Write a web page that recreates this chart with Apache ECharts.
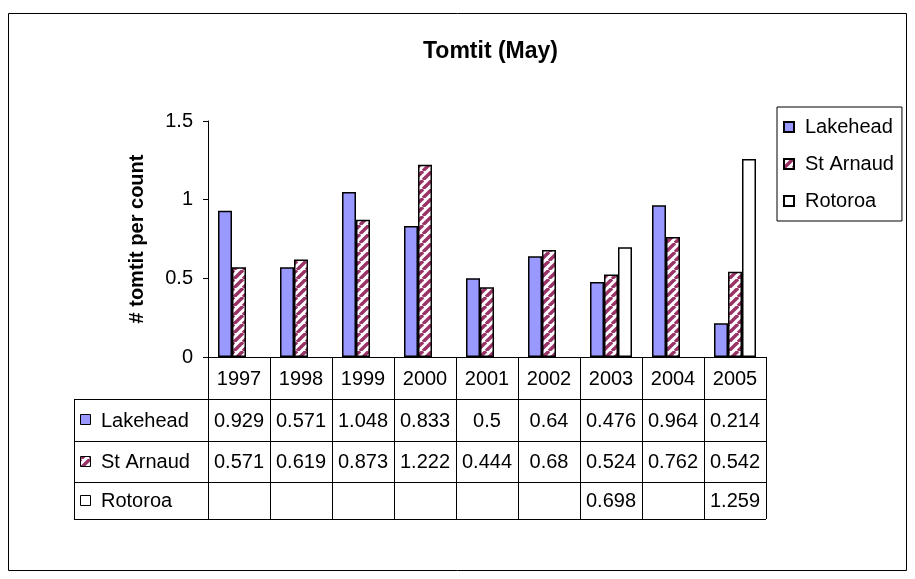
<!DOCTYPE html>
<html>
<head>
<meta charset="utf-8">
<script src="https://cdn.jsdelivr.net/npm/echarts@6/dist/echarts.min.js"></script>
<style>
  html, body { margin: 0; padding: 0; background: #fff; }
  #main { width: 915px; height: 579px; }
</style>
</head>
<body>
<div id="main"></div>
<script>
  const years = ['1997', '1998', '1999', '2000', '2001', '2002', '2003', '2004', '2005'];
  const seriesNames = ['Lakehead', 'St Arnaud', 'Rotoroa'];
  const lakehead = [0.929, 0.571, 1.048, 0.833, 0.5, 0.64, 0.476, 0.964, 0.214];
  const stArnaud = [0.571, 0.619, 0.873, 1.222, 0.444, 0.68, 0.524, 0.762, 0.542];
  const rotoroa = [null, null, null, null, null, null, 0.698, null, 1.259];
  const yMin = 0, yMax = 1.5, yStep = 0.5;

  const FONT = '"Liberation Sans", Arial, sans-serif';

  //斜线填充
  function stripes() {
    const c = document.createElement('canvas');
    c.width = 9; c.height = 9;
    const ctx = c.getContext('2d');
    ctx.fillStyle = '#fff';
    ctx.fillRect(0, 0, 9, 9);
    ctx.strokeStyle = '#993366';
    ctx.lineWidth = 3.4;
    [-9, 0, 9].forEach(function (o) {
      ctx.beginPath();
      ctx.moveTo(o, 9);
      ctx.lineTo(o + 9, 0);
      ctx.stroke();
    });
    return { image: c, repeat: 'repeat' };
  }

  const fills = ['#9999ff', stripes(), '#ffffff'];
  const allData = [lakehead, stArnaud, rotoroa];

  const chart = echarts.init(document.getElementById('main'));

  const option = {
    animation: false,
    backgroundColor: '#fff',
    title: {
      text: 'Tomtit (May)',
      left: 418,
      top: 35,
      textStyle: { fontFamily: FONT, fontSize: 23, fontWeight: 'bold', color: '#000' }
    },
    legend: {
      orient: 'vertical',
      left: 777,
      top: 107,
      padding: [10, 8, 10, 6],
      itemWidth: 10,
      itemHeight: 10,
      itemGap: 17,
      borderColor: '#000',
      borderWidth: 1,
      icon: 'rect',
      data: seriesNames,
      textStyle: { fontFamily: FONT, fontSize: 20, color: '#000', padding: [0, 0, 0, 6] }
    },
    grid: { left: 208, right: 149, top: 121, bottom: 222 },
    xAxis: {
      type: 'category',
      data: years,
      axisLine: { lineStyle: { color: '#000', width: 1 } },
      axisTick: { show: true, length: 42, lineStyle: { color: '#000' } },
      axisLabel: { margin: 12, fontFamily: FONT, fontSize: 20, color: '#000' },
      splitLine: { show: false }
    },
    yAxis: {
      type: 'value',
      min: yMin,
      max: yMax,
      interval: yStep,
      name: '# tomtit per count',
      nameLocation: 'middle',
      nameRotate: 90,
      nameGap: 61,
      nameTextStyle: { fontFamily: FONT, fontSize: 20, fontWeight: 'bold', color: '#000' },
      axisLine: { show: true, lineStyle: { color: '#000', width: 1 } },
      axisTick: { show: true, length: 5, lineStyle: { color: '#000' } },
      axisLabel: { margin: 15, fontFamily: FONT, fontSize: 20, color: '#000' },
      splitLine: { show: false }
    },
    series: seriesNames.map(function (name, i) {
      return {
        name: name,
        type: 'bar',
        data: allData[i],
        barWidth: 14,
        barGap: '0%',
        itemStyle: { color: fills[i], borderColor: '#000', borderWidth: 1.5 }
      };
    })
  };
  chart.setOption(option);

  //数据表
  const xa = chart.convertToPixel({ xAxisIndex: 0 }, years[0]);
  const xb = chart.convertToPixel({ xAxisIndex: 0 }, years[1]);
  const bw = xb - xa;
  const left = xa - bw / 2;
  const right = left + bw * years.length;
  const axisY = chart.convertToPixel({ yAxisIndex: 0 }, 0);
  const rowLines = [399, 441, 482, 519];
  const tableLeft = 74;

  const g = [];
  function line(x1, y1, x2, y2) {
    g.push({
      type: 'line',
      shape: { x1: x1, y1: y1, x2: x2, y2: y2 },
      style: { stroke: '#000', lineWidth: 1 },
      silent: true
    });
  }
  rowLines.forEach(function (y) { line(tableLeft, y + 0.5, right, y + 0.5); });
  line(tableLeft + 0.5, rowLines[0], tableLeft + 0.5, rowLines[3]);
  line(Math.round(left) + 0.5, axisY, Math.round(left) + 0.5, rowLines[3]);
  for (let k = 1; k <= years.length; k++) {
    const x = Math.round(left + bw * k) + 0.5;
    line(x, rowLines[0], x, rowLines[3]);
  }

  seriesNames.forEach(function (name, i) {
    const top = rowLines[i], bot = rowLines[i + 1];
    const cy = (top + bot) / 2;
    g.push({
      type: 'rect',
      shape: { x: 80.5, y: Math.round(cy) - 5.5, width: 10, height: 10 },
      style: { fill: fills[i], stroke: '#000', lineWidth: 1 },
      silent: true
    });
    g.push({
      type: 'text',
      x: 101, y: cy + 1,
      style: { text: name, font: '20px ' + FONT, fill: '#000', verticalAlign: 'middle', align: 'left' },
      silent: true
    });
    allData[i].forEach(function (v, j) {
      if (v === null) return;
      g.push({
        type: 'text',
        x: left + bw * (j + 0.5), y: cy + 1,
        style: { text: String(v), font: '20px ' + FONT, fill: '#000', verticalAlign: 'middle', align: 'center' },
        silent: true
      });
    });
  });

  //外框
  g.push({
    type: 'rect',
    shape: { x: 8.5, y: 13.5, width: 898, height: 557 },
    style: { fill: null, stroke: '#000', lineWidth: 1 },
    silent: true,
    z: -1
  });

  chart.setOption({ graphic: g });
</script>
</body>
</html>
